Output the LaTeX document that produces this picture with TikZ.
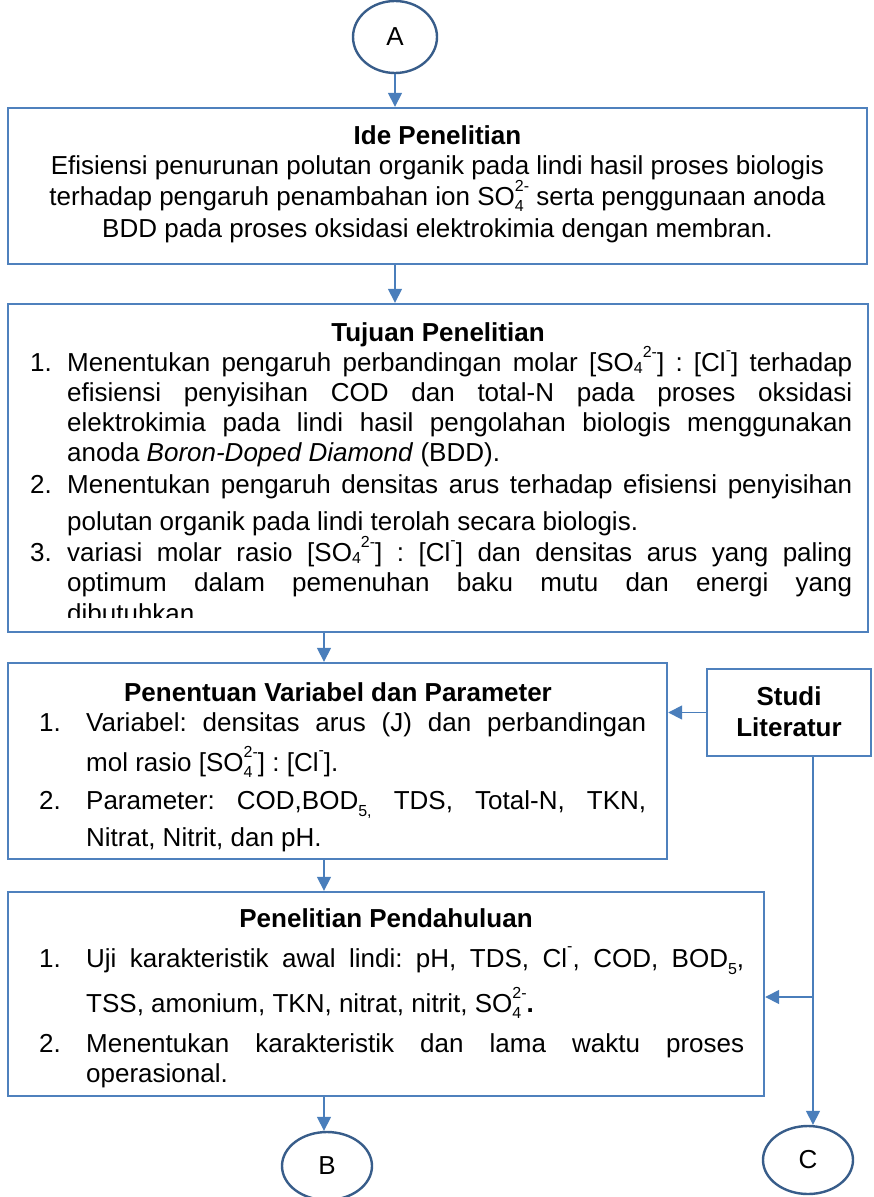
\documentclass[tikz,border=0pt]{standalone}
\usepackage{fontspec}
\setmainfont{Liberation Sans}
\usetikzlibrary{arrows.meta,shapes.geometric}
\definecolor{boxblue}{HTML}{4F81BD}
\definecolor{lineblue}{HTML}{4A7EBB}
\definecolor{circblue}{HTML}{385D8A}
\frenchspacing
\newcommand\fsz{\fontsize{26}{30}\selectfont\frenchspacing}
\newcommand\smf{\fontsize{16}{16}\selectfont}
% stacked sub/superscript
\newcommand\stk[2]{\mbox{\rlap{\raisebox{-0.5ex}{\smf #1}}\raisebox{0.95ex}{\smf #2}}}
% sequential sub then superscript
\newcommand\sqs[2]{\mbox{\raisebox{-0.15ex}{\smf #1}\raisebox{0.95ex}{\smf #2}}}
\newcommand\supx[1]{\raisebox{1.1ex}{\smf #1}}
\newcommand\sbb[1]{\raisebox{-0.55ex}{\smf #1}}
\newcommand\jl[2]{\makebox[#1pt][s]{#2}}
\tikzset{
  box/.style={draw=boxblue, line width=2.4pt, fill=white, inner sep=0pt},
  circ/.style={ellipse, draw=circblue, line width=2.4pt, inner sep=0pt, font=\fsz},
  arr/.style={draw=lineblue, line width=1.6pt, -{Triangle[length=14pt,width=14pt]}},
  ln/.style={anchor=base west, inner sep=0pt, font=\fsz},
  lc/.style={anchor=base, inner sep=0pt, font=\fsz},
  hd/.style={anchor=base, inner sep=0pt, font=\fsz\bfseries},
}
\begin{document}
\begin{tikzpicture}[x=1pt,y=-1pt]
\useasboundingbox (0,0) rectangle (873,1197);
% shapes
\node[circ, minimum width=84pt, minimum height=72pt] (A) at (395,37) {\raisebox{-6pt}{A}};
\node[box, minimum width=859pt, minimum height=156pt] (b1) at (437.5,186) {};
\node[box, minimum width=860pt, minimum height=328pt] (b2) at (438,468) {};
\node[box, minimum width=659pt, minimum height=196pt] (b3) at (337.5,761) {};
\node[box, minimum width=164pt, minimum height=87pt] (st) at (789,712.5) {};
\node[box, minimum width=756pt, minimum height=204pt] (b4) at (386,994) {};
\node[circ, minimum width=90pt, minimum height=68pt] (B) at (327,1166) {\raisebox{-4pt}{B}};
\node[circ, minimum width=90pt, minimum height=68pt] (C) at (808,1160) {\raisebox{-3pt}{C}};
\coordinate (mx) at (324,0);
\coordinate (rx) at (813,0);
\coordinate (br) at (0,997);
% box 1
\node[hd] (b1h) at (437.5,144) {Ide Penelitian};
\node[lc] (b1a) at (437.5,174) {Efisiensi penurunan polutan organik pada lindi hasil proses biologis};
\node[lc] (b1b) at (437.5,205) {terhadap pengaruh penambahan ion SO\stk{4}{2-} serta penggunaan anoda};
\node[lc] (b1c) at (437.5,237) {BDD pada proses oksidasi elektrokimia dengan membran.};
% box 2
\node[hd] (b2h) at (438,341) {Tujuan Penelitian};
\node[ln] (b2n1) at (30,371) {1.};
\node[ln] (b2a) at (67,371) {\jl{785}{Menentukan pengaruh perbandingan molar [SO\sqs{4}{2-}] : [Cl\supx{-}] terhadap}};
\node[ln] (b2b) at (67,401) {\jl{785}{efisiensi penyisihan COD dan total-N pada proses oksidasi}};
\node[ln] (b2c) at (67,431) {\jl{785}{elektrokimia pada lindi hasil pengolahan biologis menggunakan}};
\node[ln] (b2d) at (67,461) {anoda \textit{Boron-Doped Diamond} (BDD).};
\node[ln] (b2n2) at (30,493) {2.};
\node[ln] (b2e) at (67,493) {\jl{785}{Menentukan pengaruh densitas arus terhadap efisiensi penyisihan}};
\node[ln] (b2f) at (67,530) {polutan organik pada lindi terolah secara biologis.};
\node[ln] (b2n3) at (30,561) {3.};
\node[ln] (b2g) at (67,561) {\jl{785}{variasi molar rasio [SO\sqs{4}{2-}] : [Cl\supx{-}] dan densitas arus yang paling}};
\node[ln] (b2h2) at (67,591) {\jl{785}{optimum dalam pemenuhan baku mutu dan energi yang}};
\begin{scope}
\clip (10,306) rectangle (866,617);
\node[ln] (b2i) at (67,622) {dibutuhkan.};
\end{scope}
% box 3
\node[hd] (b3h) at (338,701) {Penentuan Variabel dan Parameter};
\node[ln] (b3n1) at (39,731) {1.};
\node[ln] (b3a) at (86,731) {\jl{560}{Variabel: densitas arus (J) dan perbandingan}};
\node[ln] (b3b) at (86,771) {mol rasio [SO\stk{4}{2-}] : [Cl\supx{-}].};
\node[ln] (b3n2) at (39,809) {2.};
\node[ln] (b3c) at (86,809) {\jl{560}{Parameter: COD,BOD\sbb{5,} TDS, Total-N, TKN,}};
\node[ln] (b3d) at (86,846) {Nitrat, Nitrit, dan pH.};
% studi literatur
\node[hd] (sta) at (789,705) {Studi};
\node[hd] (stb) at (789,736) {Literatur};
% box 4
\node[hd] (b4h) at (386,927) {Penelitian Pendahuluan};
\node[ln] (b4n1) at (39,967) {1.};
\node[ln] (b4a) at (86,967) {\jl{658}{Uji karakteristik awal lindi: pH, TDS, Cl\supx{-}, COD, BOD\sbb{5},}};
\node[ln] (b4b) at (86,1012) {TSS, amonium, TKN, nitrat, nitrit, SO\stk{4}{2-}\textbf{.}};
\node[ln] (b4n2) at (39,1052) {2.};
\node[ln] (b4c) at (86,1052) {\jl{658}{Menentukan karakteristik dan lama waktu proses}};
\node[ln] (b4d) at (86,1082) {operasional.};
% connectors
\draw[arr] (A.south) -- (A.south |- b1.north);
\draw[arr] (b1.south -| A) -- (b2.north -| A);
\draw[arr] (b2.south -| mx) -- (b3.north -| mx);
\draw[arr] (st.west) -- (st.west -| b3.east);
\draw[arr] (b3.south -| mx) -- (b4.north -| mx);
\draw[arr] (b4.south -| mx) -- (B.north -| mx);
\draw[arr] (st.south -| rx) -- (rx |- C.north);
\draw[arr] (rx |- br) -- (b4.east |- br);
\end{tikzpicture}
\end{document}
